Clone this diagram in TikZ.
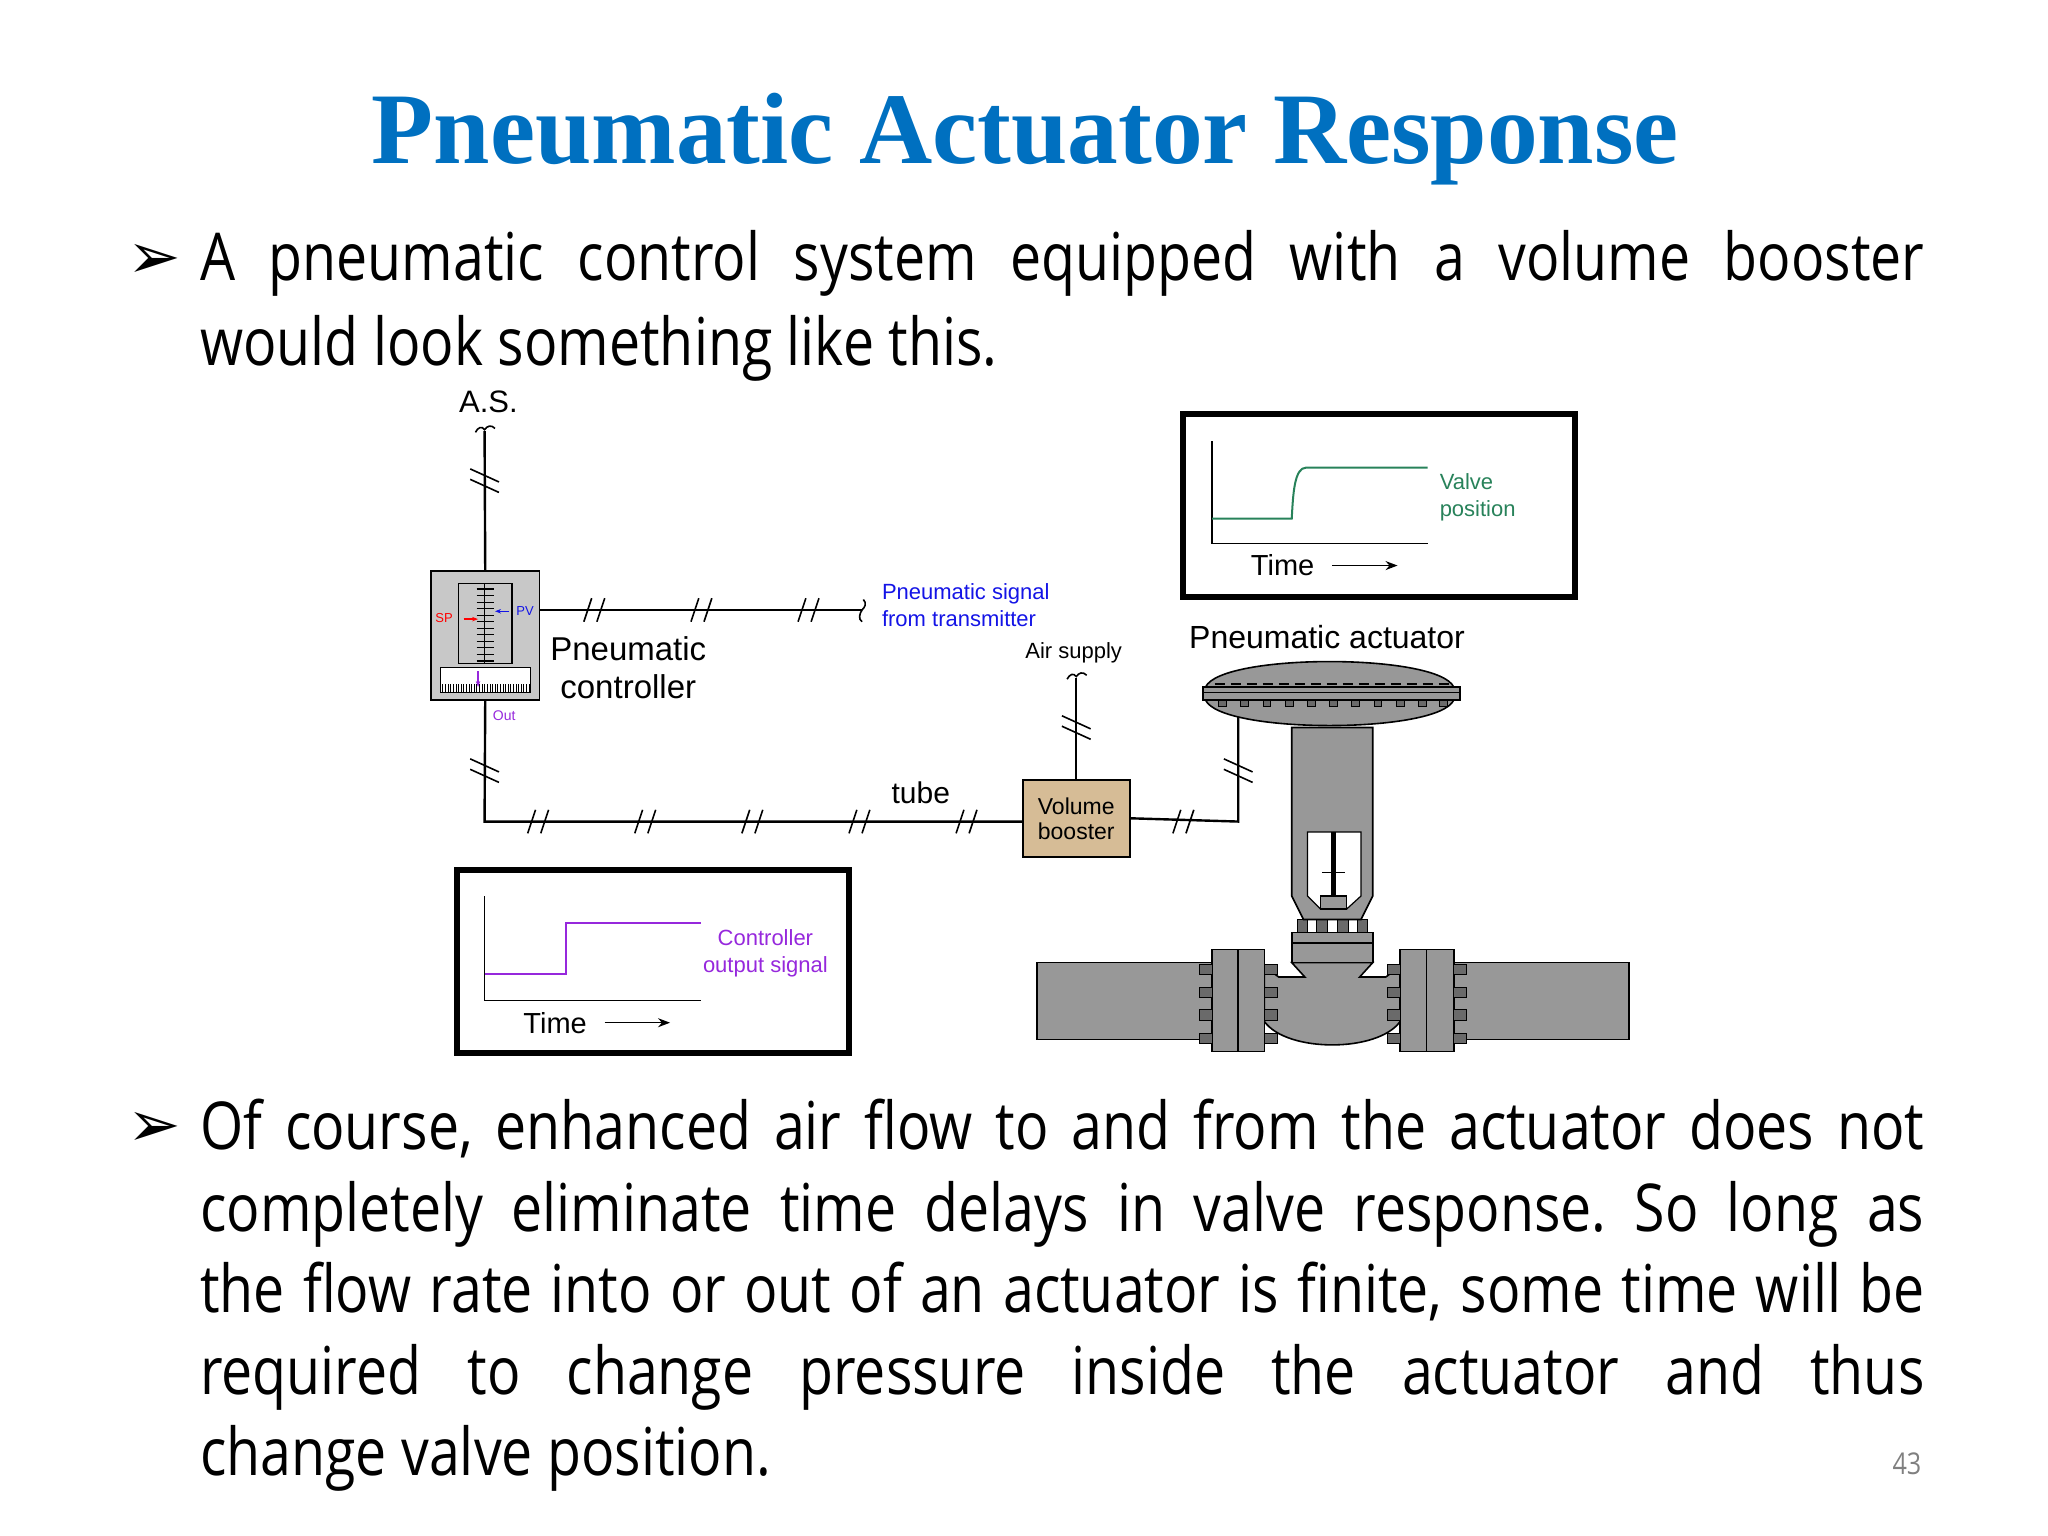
\documentclass[tikz,border=0pt]{standalone}
\usepackage{fontspec}
\setmainfont{Open Sans}[FakeStretch=0.84]
\newfontfamily\titlefont{Liberation Serif}
\newfontfamily\arialf{Liberation Sans}
\newfontfamily\symf{DejaVu Sans}
\usetikzlibrary{arrows.meta}
\definecolor{titleblue}{RGB}{0,112,192}
\definecolor{sigblue}{RGB}{20,20,230}
\definecolor{vgreen}{RGB}{40,130,90}
\definecolor{cpurple}{RGB}{150,40,220}
\definecolor{ctrlgray}{RGB}{200,200,200}
\definecolor{valvegray}{RGB}{152,152,152}
\definecolor{tan}{RGB}{214,188,150}
\tikzset{
 lbl/.style={font=\arialf, inner sep=0pt},
 tube/.style={line width=1.2pt},
 graphbox/.style={draw, line width=3pt},
 metal/.style={fill=valvegray, draw=black, line width=0.8pt},
 bolt/.style={fill=valvegray!70!black, draw=black, line width=0.4pt},
}
\frenchspacing
\newcommand{\hh}[2]{\draw[line width=0.8pt] (#1-8,#2+9) -- (#1-2,#2-9) (#1+2,#2+9) -- (#1+8,#2-9);}
\newcommand{\hv}[2]{\draw[line width=0.8pt] (#1-11,#2-9) -- (#1+11,#2+1) (#1-11,#2-1) -- (#1+11,#2+9);}
\begin{document}
\begin{tikzpicture}[x=0.653pt,y=-0.653pt]
\useasboundingbox (0,0) rectangle (1568,1176);
% title
\node[anchor=base, inner sep=0pt, text=titleblue, font=\titlefont\bfseries\fontsize{50.7}{56}\selectfont] (title) at (785,125) {Pneumatic Actuator Response};
% bullets
\node[anchor=base west, inner sep=0pt, font=\symf\bfseries\fontsize{32}{34}\selectfont] (b1) at (97,213) {➢};
\node[anchor=base west, inner sep=0pt, font=\symf\bfseries\fontsize{32}{34}\selectfont] (b2) at (97,878) {➢};
\node[anchor=base west, inner sep=0pt, text width=862pt, align=justify, font=\fontsize{33}{42.5}\selectfont] (t1) at (153,215)
 {A pneumatic control system equipped with a volume booster\linebreak would look something like this.};
\node[anchor=base west, inner sep=0pt, text width=862pt, align=justify, font=\fontsize{33}{40.8}\selectfont] (t2) at (153,880)
 {Of course, enhanced air flow to and from the actuator does not\linebreak completely eliminate time delays in valve response. So long as\linebreak the flow rate into or out of an actuator is finite, some time will be\linebreak required to change pressure inside the actuator and thus\linebreak change valve position.};
\node[anchor=base, inner sep=0pt, text=gray, font=\fontsize{15}{16}\selectfont] (pg) at (1460,1129) {43};

% ---------- controller ----------
\node[draw, fill=ctrlgray, line width=0.8pt, minimum width=83*0.653pt, minimum height=99*0.653pt, inner sep=0pt] (ctrl) at (371.5,486.5) {};
\draw[line width=0.6pt, fill=ctrlgray] (351,447) rectangle (392,508);
\draw[line width=0.8pt] (371,447) -- (371,508);
\foreach \yy in {451,456,...,506} \draw[line width=0.6pt] (365,\yy) -- (378,\yy);
\draw[line width=0.6pt, fill=white] (337,511) rectangle (406,530);
\foreach \xx in {339,341,...,405} \draw[line width=0.3pt] (\xx,530) -- (\xx,524);
\draw[-{Stealth[length=3pt]}, cpurple, line width=0.7pt] (366,514) -- (366,526);
\draw[-{Stealth[length=3pt]}, red, line width=0.7pt] (355,474) -- (366,474);
\draw[-{Stealth[length=3pt]}, sigblue, line width=0.7pt] (390,468) -- (379,468);
\node[lbl, text=red, font=\arialf\fontsize{6.5}{7}\selectfont] (sp) at (340,473) {SP};
\node[lbl, text=sigblue, font=\arialf\fontsize{6.5}{7}\selectfont] (pv) at (402,468) {PV};
\node[lbl, text=cpurple, font=\arialf\fontsize{7}{8}\selectfont] (out) at (386,548) {Out};
\node[lbl, align=center, font=\arialf\fontsize{16.5}{19}\selectfont] (clbl) at (481,511) {Pneumatic\\controller};

% A.S.
\node[lbl, font=\arialf\fontsize{15.5}{17}\selectfont] (as) at (374,308) {A.S.};
\coordinate (asend) at (371,330);
\draw[line width=0.8pt] (364,331) .. controls (366,327) and (369,326) .. (371,329) .. controls (373,326) and (376,325) .. (379,328);
\draw[tube] (asend) -- (ctrl.north);
\hv{371}{368}

% transmitter signal
\coordinate (tx) at (660,467);
\draw[tube] (ctrl.east |- tx) -- (tx);
\draw[line width=0.8pt] (661,459) .. controls (664,462) and (662,465) .. (660,467) .. controls (658,470) and (657,474) .. (660,476);
\hh{455}{467} \hh{537}{467} \hh{619}{467}
\node[lbl, align=left, anchor=west, text=sigblue, font=\arialf\fontsize{11}{13.5}\selectfont] (sig) at (675,463) {Pneumatic signal\\from transmitter};

% booster
\node[draw, fill=tan, line width=0.8pt, minimum width=82*0.653pt, minimum height=59*0.653pt, inner sep=0pt, align=center, font=\arialf\fontsize{11.5}{12.5}\selectfont] (boost) at (824,626.5) {Volume\\booster};
\coordinate (corner1) at (371,629);
\draw[tube] (ctrl.south) -- (corner1) -- (boost.west |- corner1);
\hv{371}{590}
\hh{412}{629} \hh{494}{629} \hh{576}{629} \hh{658}{629} \hh{740}{629}
\node[lbl, font=\arialf\fontsize{15}{17}\selectfont] (tubel) at (705,607) {tube};

% air supply
\node[lbl, font=\arialf\fontsize{11}{13}\selectfont] (air) at (822,500) {Air supply};
\coordinate (airend) at (824,519);
\draw[line width=0.8pt] (817,520) .. controls (819,516) and (822,515) .. (824,518) .. controls (826,515) and (829,514) .. (832,517);
\draw[tube] (airend) -- (boost.north);
\hv{824}{557}

% actuator
\node[lbl, font=\arialf\fontsize{16}{18}\selectfont] (alb) at (1016,488) {Pneumatic actuator};
\coordinate (actin) at (948,549);
\coordinate (corner2) at (948,629);
\draw[tube] (boost.east) -- (corner2) -- (actin);
\hh{906}{629}
\hv{948}{590}

% pipes
\draw[metal] (794,737) rectangle (928,796);
\draw[metal] (1113,737) rectangle (1247,796);
% valve body
\draw[metal] (968,740) -- (979,748) -- (999,748) -- (989,737) -- (1051,737) -- (1041,748) -- (1061,748) -- (1072,740) -- (1072,782) .. controls (1055,806) and (985,806) .. (968,782) -- cycle;
% flanges
\draw[metal] (928,727) rectangle (948,805);
\draw[metal] (948,727) rectangle (968,805);
\draw[metal] (1072,727) rectangle (1092,805);
\draw[metal] (1092,727) rectangle (1113,805);
\foreach \yy in {742,760,777,795} {
 \foreach \xx in {918,968,1062,1113} \draw[bolt] (\xx,\yy-4) rectangle (\xx+10,\yy+4);
}
% bonnet
\foreach \xx in {993,1008,1024,1039} \draw[bolt] (\xx,704) rectangle (\xx+8,714);
\draw[metal] (989,714) rectangle (1051,737);
\draw[line width=0.6pt] (989,722) -- (1051,722);
% yoke
\draw[metal] (989,557) -- (1051,557) -- (1051,686) -- (1042,704) -- (998,704) -- (989,686) -- cycle;
\draw[fill=white, draw=black, line width=0.6pt] (1001,637) -- (1042,637) -- (1042,686) -- (1031,696) -- (1011,696) -- (1001,686) -- cycle;
\draw[line width=2.6pt] (1021,637) -- (1021,688);
\draw[line width=0.6pt] (1012,668) -- (1030,668);
\draw[metal, line width=0.6pt] (1011,686) rectangle (1031,696);
% diaphragm
\draw[metal] (923,526) .. controls (935,500) and (1101,500) .. (1113,526) -- cycle;
\draw[metal] (923,536) .. controls (935,562) and (1101,562) .. (1113,536) -- cycle;
\draw[metal] (921,526) rectangle (1118,536);
\draw[line width=0.5pt] (921,530) -- (1118,530);
\foreach \xx in {936,953,970,987,1004,1021,1038,1055,1072,1089,1105} \draw[bolt] (\xx-3,536) rectangle (\xx+3,541);
\draw[line width=1pt, dash pattern=on 5pt off 3pt] (930,524) -- (1110,524);

% valve position graph
\node[graphbox, minimum width=300*0.653pt, minimum height=140*0.653pt, inner sep=0pt] (vbox) at (1056,387) {};
\draw[line width=0.7pt] (928,338) -- (928,416) -- (1093,416);
\draw[vgreen, line width=1pt] (928,397) -- (989,397) .. controls (990,378) and (991,358) .. (1000,358) -- (1093,358);
\node[lbl, align=left, anchor=west, text=vgreen, font=\arialf\fontsize{11}{13.5}\selectfont] (vpl) at (1102,381) {Valve\\position};
\node[lbl, font=\arialf\fontsize{14.5}{16}\selectfont] (tv) at (982,433) {Time};
\draw[-{Stealth[length=6pt]}, line width=0.7pt] (1020,433) -- (1070,433);

% controller output graph
\node[graphbox, minimum width=300*0.653pt, minimum height=140*0.653pt, inner sep=0pt] (cbox) at (500,736) {};
\draw[line width=0.7pt] (371,686) -- (371,766) -- (537,766);
\draw[cpurple, line width=1pt] (371,746) -- (433,746) -- (433,707) -- (537,707);
\node[lbl, align=center, text=cpurple, font=\arialf\fontsize{11}{13.5}\selectfont] (col) at (586,730) {Controller\\output signal};
\node[lbl, font=\arialf\fontsize{14.5}{16}\selectfont] (tc) at (425,783) {Time};
\draw[-{Stealth[length=6pt]}, line width=0.7pt] (463,783) -- (513,783);
\end{tikzpicture}
\end{document}
